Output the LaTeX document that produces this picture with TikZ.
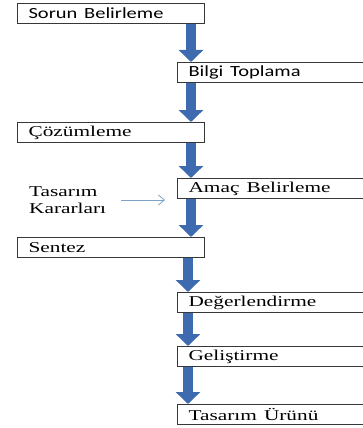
\documentclass[tikz,border=0pt]{standalone}
\usepackage{fontspec}
\setmainfont{Liberation Serif}
\newfontfamily\calibri{Carlito}
\usepackage{graphicx}
\usetikzlibrary{arrows.meta,calc,positioning}
\definecolor{flowblue}{RGB}{62,106,176}
\definecolor{hintblue}{RGB}{125,162,200}
\definecolor{boxline}{RGB}{55,55,55}
\newcommand{\stretchx}[2][1.42]{\scalebox{#1}[1]{#2}}
\tikzstyle{stage}=[
  draw=boxline,
  line width=1.2pt,
  anchor=north west,
  minimum height=20pt,
  text width=165pt,
  inner xsep=11pt,
  inner ysep=0pt,
  align=left,
  font={\fontsize{15}{17}\selectfont},
]
\tikzstyle{stagewide}=[
  stage,
  text width=180pt,
]
\tikzstyle{sans}=[
  font={\calibri\fontsize{15.5}{17}\selectfont},
]
\tikzstyle{flow}=[
  draw=flowblue,
  line width=10pt,
  -{Triangle[width=24pt,length=12pt]},
]
\tikzstyle{hint}=[
  draw=hintblue,
  line width=0.8pt,
  -{Straight Barb[length=6pt,width=10pt]},
]
\tikzset{
  x=1pt,
  y=-1pt,
}

\begin{document}
\begin{tikzpicture}
  \useasboundingbox (0,0) rectangle (363,428);
  \clip (0,0) rectangle (363,428);
  % stages, left column and right column
  \node [stage, sans] (sorun) at (17,3) {\stretchx[1.32]{Sorun Belirleme}};
  \node [stagewide, sans] (bilgi) at (177,62) {\stretchx[1.32]{Bilgi Toplama}};
  \node [stage] (cozum) at (17,122) {\stretchx{Çözümleme}};
  \node [stagewide] (amac) at (177,178) {\stretchx{Amaç Belirleme}};
  \node [stage] (sentez) at (17,237) {\stretchx{Sentez}};
  \node [stagewide] (deger) at (177,292) {\stretchx{Değerlendirme}};
  \node [stagewide] (gelis) at (177,346) {\stretchx{Geliştirme}};
  \node [stagewide] (urun) at (177,404) {\stretchx{Tasarım Ürünü}};
  \node [anchor=west, inner sep=0pt, align=left,
  font={\fontsize{15}{17.5}\selectfont}] (karar) at (29,200)
  {\stretchx{Tasarım}\\\stretchx{Kararları}};
  \coordinate (axis) at (191,0);
  \coordinate (axislow) at (188,0);
  \draw [flow] (sorun.south -| axis) -- (bilgi.north -| axis);
  \draw [flow] (bilgi.south -| axis) -- (cozum.north -| axis);
  \draw [flow] (cozum.south -| axis) -- (amac.north -| axis);
  \draw [flow] (amac.south -| axis) -- (sentez.north -| axis);
  \draw [flow] (sentez.south -| axislow) -- (deger.north -| axislow);
  \draw [flow] (deger.south -| axislow) -- (gelis.north -| axislow);
  \draw [flow] (gelis.south -| axislow) -- (urun.north -| axislow);
  \draw [hint, shorten <=15pt, shorten >=12pt]
  (karar.east) -- (karar.east -| amac.west);
\end{tikzpicture}
\end{document}
